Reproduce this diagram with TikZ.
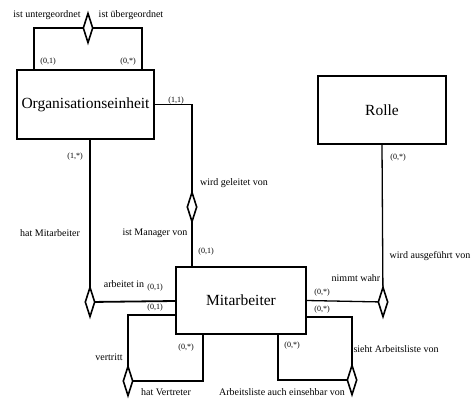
\documentclass[tikz,border=0pt]{standalone}
\usepackage{fontspec}
\setmainfont{Liberation Serif}
\newfontfamily\erfont{Liberation Serif}
\usetikzlibrary{shapes.geometric}
\begin{document}
\begin{tikzpicture}[x=1pt,y=-1pt,
  entity/.style={draw,line width=1.8pt,inner sep=0pt,font=\erfont\fontsize{15.5}{18}\selectfont},
  rel/.style={draw,diamond,fill=white,line width=1.6pt,minimum width=10pt,minimum height=30pt,inner sep=0pt},
  conn/.style={line width=1.8pt},
  lbl/.style={font=\erfont\fontsize{10}{12}\selectfont,inner sep=0pt},
  card/.style={font=\erfont\fontsize{8}{9}\selectfont,inner sep=0pt}]
\useasboundingbox (0,0) rectangle (474,413);

% entities
\node[entity,minimum width=137pt,minimum height=69pt] (org) at (85.5,104.5) {Organisationseinheit};
\node[entity,minimum width=128pt,minimum height=68pt] (rolle) at (382,110) {Rolle};
\node[entity,minimum width=130pt,minimum height=67pt] (mit) at (241,300.5) {Mitarbeiter};

% relationship corner points
\coordinate (tl) at (34,70);
\coordinate (tr) at (142,70);
\coordinate (ha) at (90,139);
\coordinate (mgr) at (192,104.5);
\coordinate (mgrm) at (192,267);
\coordinate (sa1) at (306,317);
\coordinate (sa2) at (278,334);
\coordinate (vt1) at (176,315);
\coordinate (vt2) at (203,334);

% connectors (drawn before the diamonds)
\draw[conn] (tl) |- (88,28) -| (tr);
\draw[conn] (ha) -- (90,302) -- (mit.west |- 0,301);
\draw[conn] (org.east) -- (mgr) -- (mgrm);
\draw[line width=1.3pt] (rolle.south) -- (383,302) -- (mit.east);
\draw[conn] (sa1) -| (352,380) -| (sa2);
\draw[conn] (vt1) -| (128,381) -| (vt2);

% relationships
\node[rel] (d1) at (88,28) {};
\node[rel] (d2) at (90,302) {};
\node[rel] (d3) at (192,207) {};
\node[rel] (d4) at (383,302) {};
\node[rel] (d5) at (352,380) {};
\node[rel] (d6) at (128,381) {};

% role names
\node[lbl] (l1) at (47,15) {ist untergeordnet};
\node[lbl] (l2) at (131,15) {ist übergeordnet};
\node[lbl] (l3) at (50,233) {hat Mitarbeiter};
\node[lbl] (l4) at (234,183) {wird geleitet von};
\node[lbl] (l5) at (155,233) {ist Manager von};
\node[lbl] (l6) at (430,256) {wird ausgeführt von};
\node[lbl] (l7) at (356,278) {nimmt wahr};
\node[lbl] (l8) at (124,284) {arbeitet in};
\node[lbl] (l9) at (109,357) {vertritt};
\node[lbl] (l10) at (166,392) {hat Vertreter};
\node[lbl] (l11) at (396,349) {sieht Arbeitsliste von};
\node[lbl] (l12) at (282,392) {Arbeitsliste auch einsehbar von};

% cardinalities
\node[card] (c1) at (48,62) {(0,1)};
\node[card] (c2) at (128,62) {(0,*)};
\node[card] (c3) at (75,157) {(1,*)};
\node[card] (c4) at (176,101) {(1,1)};
\node[card] (c5) at (206,252) {(0,1)};
\node[card] (c6) at (398,158) {(0,*)};
\node[card] (c7) at (155,288) {(0,1)};
\node[card] (c8) at (155,308) {(0,1)};
\node[card] (c9) at (322,293) {(0,*)};
\node[card] (c10) at (322,310) {(0,*)};
\node[card] (c11) at (186,348) {(0,*)};
\node[card] (c12) at (292,346) {(0,*)};
\end{tikzpicture}
\end{document}
